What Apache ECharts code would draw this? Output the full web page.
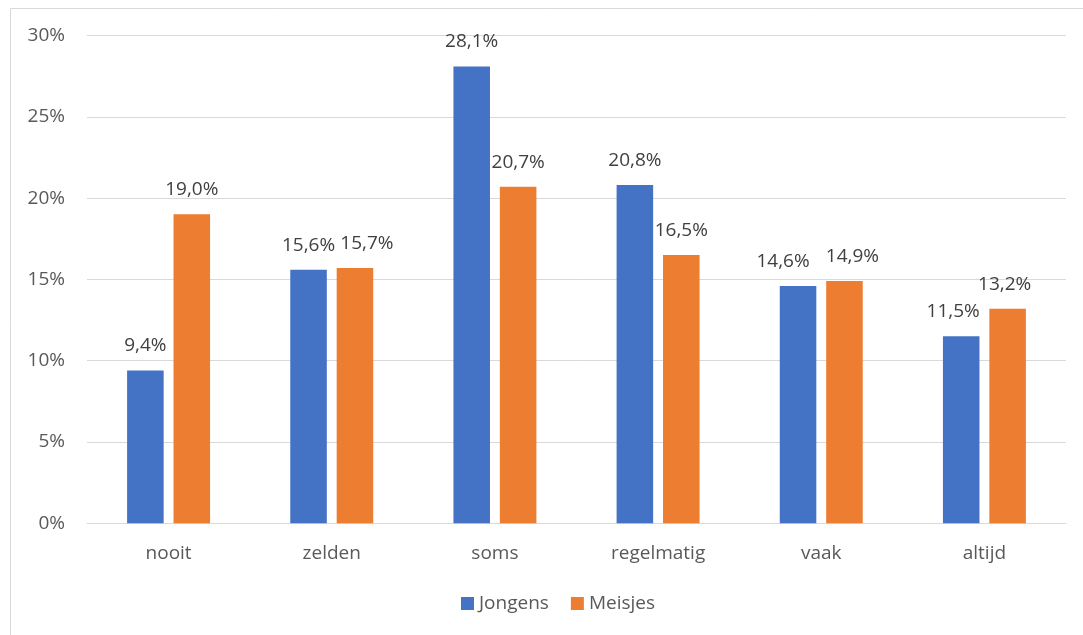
<!DOCTYPE html>
<html><head><meta charset="utf-8">
<script src="https://cdn.jsdelivr.net/npm/echarts@6/dist/echarts.min.js"></script>
<style>html,body{margin:0;padding:0;background:#fff}#c{width:1083px;height:635px}</style>
</head><body><div id="c"></div>
<script>
const categories = ['nooit','zelden','soms','regelmatig','vaak','altijd'];
const jongens = [9.4, 15.6, 28.1, 20.8, 14.6, 11.5];
const meisjes = [19.0, 15.7, 20.7, 16.5, 14.9, 13.2];
const seriesNames = ['Jongens','Meisjes'];
// horizontal label nudges (px) to avoid overlaps, as in the reference
const jongensLabelShift = [0, 0, 0, 0, -15, -8];
const meisjesLabelShift = [0, 12, 0, 0, 8, -3];
const FONT = 'Open Sans, sans-serif';
const FS = 19;
const fmt = v => v.toFixed(1).replace('.', ',') + '%';
const chart = echarts.init(document.getElementById('c'));
const lbl = {show:true, position:'top', distance:15, color:'#404040', fontSize:FS, fontFamily:FONT, formatter:p=>fmt(p.value)};
const mk = (vals, shifts) => vals.map((v,i)=>({value:v, label:{offset:[shifts[i],0]}}));
chart.setOption({
  animation:false,
  graphic:[{type:'rect', shape:{x:10.5,y:8.5,width:1200,height:800}, style:{fill:null, stroke:'#d9d9d9', lineWidth:1}, silent:true}],
  grid:{left:87, right:17, top:35.5, bottom:111.7},
  legend:{bottom:17, left:456, itemWidth:13, itemHeight:13, itemGap:22, icon:'rect',
    textStyle:{color:'#595959', fontSize:FS, fontFamily:FONT}, data:seriesNames},
  xAxis:{type:'category', data:categories,
    axisLine:{lineStyle:{color:'#d9d9d9', width:1}}, axisTick:{show:false},
    axisLabel:{color:'#595959', fontSize:FS, fontFamily:FONT, margin:21}},
  yAxis:{type:'value', min:0, max:30, interval:5,
    axisLine:{show:false}, axisTick:{show:false},
    splitLine:{lineStyle:{color:'#d9d9d9', width:1}},
    axisLabel:{color:'#595959', fontSize:FS, fontFamily:FONT, margin:22, formatter:v=>v+'%'}},
  series:[
    {name:seriesNames[0], type:'bar', data:mk(jongens, jongensLabelShift), barWidth:'22.4%', barGap:'27%', itemStyle:{color:'#4472c4'}, label:lbl},
    {name:seriesNames[1], type:'bar', data:mk(meisjes, meisjesLabelShift), barWidth:'22.4%', itemStyle:{color:'#ed7d31'}, label:lbl}
  ]
});
</script></body></html>
